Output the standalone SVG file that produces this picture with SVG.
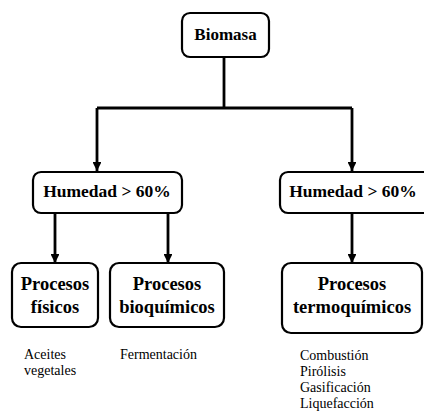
<svg xmlns="http://www.w3.org/2000/svg" width="424" height="414" viewBox="0 0 424 414">
<style>
.box{fill:#fff;stroke:#000;stroke-width:2.2}
text{font-family:'Liberation Serif','Times New Roman',serif;fill:#000}
.t{font-weight:bold;font-size:17px;text-anchor:middle}
.th{font-weight:bold;font-size:17.5px;text-anchor:middle}
.t2{font-weight:bold;font-size:18.5px;text-anchor:middle}
.l{font-size:14px}
.c{fill:none;stroke:#000;stroke-width:2.8}
</style>
<defs>
<marker id="ah" viewBox="0 0 10 10" refX="10" refY="5" markerWidth="3.2" markerHeight="3.2" orient="auto" markerUnits="strokeWidth">
<path d="M0,0 L10,5 L0,10 Z" fill="#000"/>
</marker>
</defs>
<g id="connectors">
<path class="c" d="M224,57 V108"/>
<path class="c" d="M97,108 H352"/>
<path class="c" d="M97,108 V171" marker-end="url(#ah)"/>
<path class="c" d="M352,108 V171" marker-end="url(#ah)"/>
<path class="c" d="M55,213 V263" marker-end="url(#ah)"/>
<path class="c" d="M168,213 V263" marker-end="url(#ah)"/>
<path class="c" d="M352,213 V263" marker-end="url(#ah)"/>
</g>
<g id="biomasa">
<rect class="box" x="182" y="13" width="87" height="44" rx="8"/>
<text class="t" x="225.5" y="40">Biomasa</text>
</g>
<g id="humedad1">
<rect class="box" x="33" y="172" width="149" height="41" rx="8"/>
<text class="th" x="107" y="197">Humedad &gt; 60%</text>
</g>
<g id="humedad2">
<rect class="box" x="280" y="172" width="152" height="41" rx="8"/>
<text class="th" x="353" y="197">Humedad &gt; 60%</text>
</g>
<g id="fisicos">
<rect class="box" x="12" y="263" width="86" height="64" rx="9"/>
<text class="t2" x="55" y="290">Procesos</text>
<text class="t2" x="55" y="313">físicos</text>
</g>
<g id="bioquimicos">
<rect class="box" x="110" y="263" width="114" height="64" rx="9"/>
<text class="t2" x="167" y="290">Procesos</text>
<text class="t2" x="167" y="313">bioquímicos</text>
</g>
<g id="termoquimicos">
<rect class="box" x="282" y="263" width="140" height="70" rx="9"/>
<text class="t2" x="352" y="290">Procesos</text>
<text class="t2" x="352" y="313">termoquímicos</text>
</g>
<g id="labels">
<text class="l" x="24" y="359">Aceites</text>
<text class="l" x="24" y="375">vegetales</text>
<text class="l" x="120" y="359">Fermentación</text>
<text class="l" x="300" y="360">Combustión</text>
<text class="l" x="300" y="376">Pirólisis</text>
<text class="l" x="300" y="392">Gasificación</text>
<text class="l" x="300" y="408">Liquefacción</text>
</g>
</svg>
